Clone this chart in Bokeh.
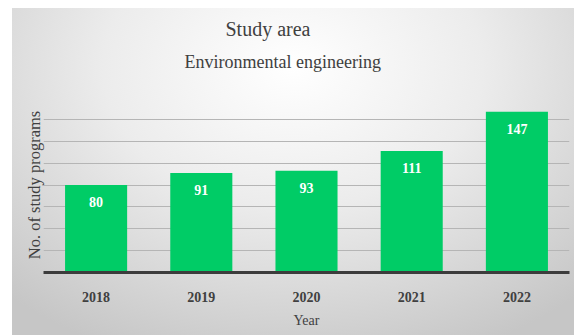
from bokeh.plotting import figure
from bokeh.models import ColumnDataSource, FixedTicker, Title
from bokeh.core.properties import value
from bokeh.embed import file_html
from bokeh.resources import INLINE

years = ["2018", "2019", "2020", "2021", "2022"]
programs = [80, 91, 93, 111, 147]
y_ticks = [0, 20, 40, 60, 80, 100, 120, 140, 160]
title_lines = ["Study area", "Environmental engineering"]
x_title = "Year"
y_title = "No. of study programs"

SERIF = "Liberation Serif"
TXT = "#404040"

src = ColumnDataSource(dict(year=years, n=programs, lbl=[str(v) for v in programs]))

p = figure(x_range=years, y_range=(0, 160), width=562, height=327,
           output_backend="svg", toolbar_location=None,
           min_border_left=31, min_border_right=5, min_border_top=89, min_border_bottom=63)
p.styles = {"margin-left": "12px", "margin-top": "8px",
            "background": "radial-gradient(ellipse 75% 95% at 50% 18%, #ffffff 0%, #ececec 45%, #c6c6c6 100%)"}
p.background_fill_alpha = 0
p.border_fill_alpha = 0
p.outline_line_color = None
p.title.visible = False

p.vbar(x="year", top="n", width=0.59, source=src, fill_color="#00CC66", line_color=None)
p.text(x="year", y="n", text="lbl", source=src, text_color="white",
       text_font=value(SERIF), text_font_style="bold", text_font_size="14px",
       text_align="center", text_baseline="middle", y_offset=17)

ya = p.yaxis[0]
ya.ticker = FixedTicker(ticks=[])
ya.axis_line_color = None
ya.major_tick_line_color = None
ya.minor_tick_line_color = None
ya.major_label_standoff = 0
ya.major_tick_out = 0
ya.axis_label = y_title
ya.axis_label_text_font = SERIF
ya.axis_label_text_font_style = "normal"
ya.axis_label_text_font_size = "16.5px"
ya.axis_label_text_color = TXT
ya.axis_label_standoff = 0

p.ygrid.ticker = FixedTicker(ticks=y_ticks)
p.ygrid.grid_line_color = "#b5b5b5"
p.ygrid.grid_line_width = 1
p.xgrid.grid_line_color = None

xa = p.xaxis[0]
xa.axis_line_color = "#3c3c3c"
xa.axis_line_width = 3
xa.major_tick_line_color = None
xa.minor_tick_line_color = None
xa.major_label_text_font = SERIF
xa.major_label_text_font_style = "bold"
xa.major_label_text_font_size = "14px"
xa.major_label_text_color = TXT
xa.major_label_standoff = 13
xa.axis_label = x_title
xa.axis_label_text_font = SERIF
xa.axis_label_text_font_style = "normal"
xa.axis_label_text_font_size = "14px"
xa.axis_label_text_color = TXT
xa.axis_label_standoff = 8

# spacer between the frame and the titles
p.add_layout(Title(text=" ", align="center", text_font=SERIF, text_font_size="8px",
                   text_color=TXT), "above")
p.add_layout(Title(text=title_lines[1], align="left", offset=141, text_font=SERIF,
                   text_font_size="18px", text_font_style="normal", text_color=TXT), "above")
p.add_layout(Title(text=title_lines[0], align="left", offset=182, text_font=SERIF,
                   text_font_size="20px", text_font_style="normal", text_color=TXT), "above")

open("out.html", "w").write(file_html(p, INLINE))
